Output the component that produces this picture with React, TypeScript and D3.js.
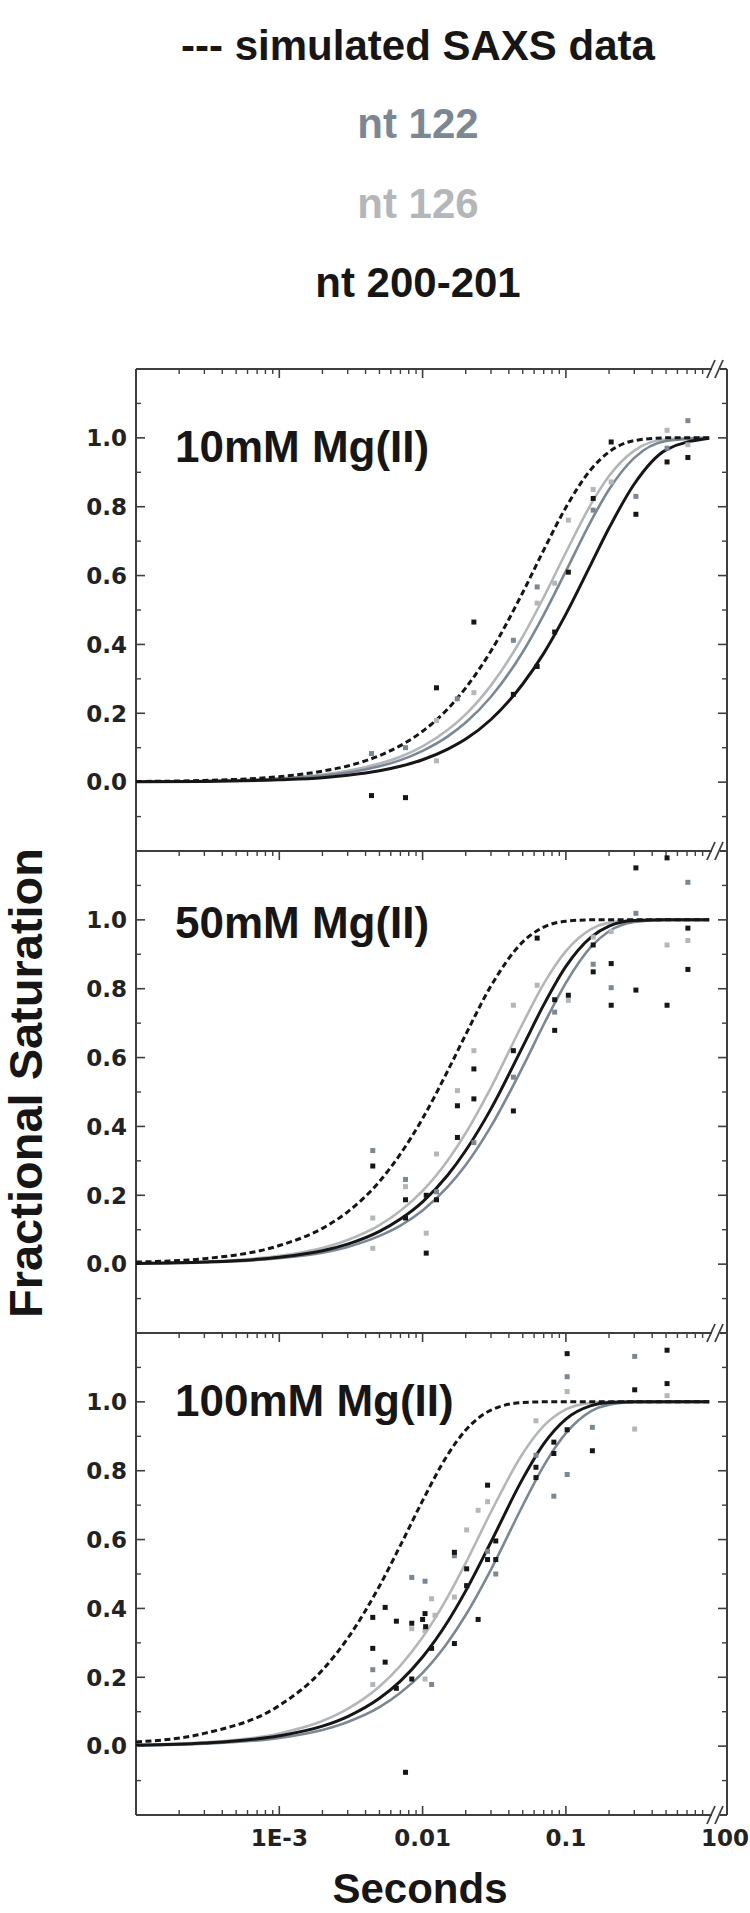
import React from 'react';
import * as d3 from 'd3';

// ---------- data ----------
const TIMES = [1e-4, 3e-4, 1e-3, 2e-3, 3e-3, 5e-3, 7e-3, 0.01, 0.015, 0.02, 0.03, 0.05, 0.07, 0.1, 0.15, 0.2, 0.3, 0.5, 1];

const PANEL_LABELS = ['10mM Mg(II)', '50mM Mg(II)', '100mM Mg(II)'];
const LEGEND_LABELS = ['--- simulated SAXS data', 'nt 122', 'nt 126', 'nt 200-201'];
const X_TICKS = [1e-3, 1e-2, 1e-1];
const X_TICK_LABELS = ['1E-3', '0.01', '0.1'];
const X_BREAK_LABEL = '100';
const Y_TICKS = [0, 0.2, 0.4, 0.6, 0.8, 1.0];
const Y_MINOR = [-0.1, 0.1, 0.3, 0.5, 0.7, 0.9, 1.1];

// fitted curves (at TIMES)
const p1Saxs = [0.002, 0.005, 0.016, 0.032, 0.047, 0.077, 0.106, 0.148, 0.213, 0.274, 0.381, 0.551, 0.674, 0.798, 0.909, 0.959, 0.992, 1.0, 1.0];
const p1Nt126 = [0.001, 0.003, 0.011, 0.022, 0.033, 0.054, 0.074, 0.104, 0.152, 0.197, 0.281, 0.423, 0.537, 0.667, 0.808, 0.889, 0.963, 0.996, 1.0];
const p1Nt122 = [0.001, 0.003, 0.010, 0.019, 0.028, 0.046, 0.064, 0.091, 0.133, 0.173, 0.248, 0.378, 0.486, 0.613, 0.759, 0.850, 0.942, 0.991, 1.0];
const p1Nt200 = [0.001, 0.002, 0.007, 0.013, 0.020, 0.033, 0.046, 0.065, 0.096, 0.125, 0.182, 0.285, 0.374, 0.488, 0.634, 0.738, 0.866, 0.965, 0.999];

const p2Saxs = [0.006, 0.016, 0.054, 0.104, 0.152, 0.240, 0.320, 0.423, 0.562, 0.667, 0.808, 0.936, 0.979, 0.996, 1.0, 1.0, 1.0, 1.0, 1.0];
const p2Nt126 = [0.002, 0.007, 0.024, 0.047, 0.070, 0.113, 0.155, 0.213, 0.302, 0.381, 0.513, 0.699, 0.814, 0.909, 0.973, 0.992, 0.999, 1.0, 1.0];
const p2Nt122 = [0.002, 0.005, 0.017, 0.033, 0.050, 0.082, 0.112, 0.156, 0.225, 0.288, 0.400, 0.573, 0.696, 0.817, 0.922, 0.967, 0.994, 1.0, 1.0];
const p2Nt200 = [0.002, 0.006, 0.020, 0.039, 0.058, 0.095, 0.131, 0.181, 0.259, 0.330, 0.451, 0.632, 0.753, 0.865, 0.950, 0.982, 0.998, 1.0, 1.0];

const p3Saxs = [0.012, 0.037, 0.118, 0.221, 0.313, 0.465, 0.583, 0.713, 0.847, 0.918, 0.976, 0.998, 1.0, 1.0, 1.0, 1.0, 1.0, 1.0, 1.0];
const p3Nt126 = [0.004, 0.011, 0.037, 0.073, 0.108, 0.173, 0.234, 0.316, 0.434, 0.532, 0.680, 0.850, 0.930, 0.978, 0.997, 1.0, 1.0, 1.0, 1.0];
const p3Nt122 = [0.002, 0.007, 0.024, 0.047, 0.070, 0.113, 0.155, 0.213, 0.302, 0.381, 0.513, 0.699, 0.814, 0.909, 0.973, 0.992, 0.999, 1.0, 1.0];
const p3Nt200 = [0.003, 0.009, 0.030, 0.058, 0.086, 0.139, 0.189, 0.259, 0.362, 0.451, 0.593, 0.777, 0.878, 0.950, 0.989, 0.998, 1.0, 1.0, 1.0];

// measured points [seconds, fraction]
const p1Pts200 = [[0.0044, -0.039], [0.0076, -0.045], [0.0125, 0.274], [0.0228, 0.465], [0.043, 0.255], [0.063, 0.336], [0.0835, 0.436], [0.104, 0.61], [0.155, 0.824], [0.207, 0.988], [0.308, 0.778], [0.508, 0.93], [0.71, 0.943]];
const p1Pts122 = [[0.0044, 0.083], [0.0076, 0.10], [0.01745, 0.242], [0.043, 0.412], [0.063, 0.567], [0.155, 0.79], [0.308, 0.83], [0.508, 0.97], [0.71, 1.05]];
const p1Pts126 = [[0.0125, 0.179], [0.0125, 0.062], [0.0228, 0.26], [0.063, 0.52], [0.0835, 0.578], [0.104, 0.761], [0.155, 0.85], [0.207, 0.872], [0.508, 1.022], [0.71, 0.98]];

const p2Pts200 = [[0.00449, 0.285], [0.0076, 0.187], [0.0076, 0.134], [0.0106, 0.032], [0.0106, 0.2], [0.0125, 0.187], [0.0175, 0.46], [0.0175, 0.368], [0.0228, 0.567], [0.0228, 0.48], [0.043, 0.445], [0.043, 0.62], [0.063, 0.947], [0.0835, 0.679], [0.0835, 0.768], [0.104, 0.781], [0.155, 0.849], [0.155, 0.927], [0.207, 0.873], [0.207, 0.752], [0.308, 1.151], [0.308, 0.796], [0.508, 1.18], [0.508, 0.752], [0.71, 0.976], [0.71, 0.856]];
const p2Pts122 = [[0.00449, 0.33], [0.0076, 0.246], [0.0125, 0.21], [0.0228, 0.353], [0.043, 0.543], [0.0835, 0.732], [0.155, 0.871], [0.207, 0.803], [0.308, 1.019], [0.71, 1.109]];
const p2Pts126 = [[0.00449, 0.134], [0.00449, 0.046], [0.0076, 0.225], [0.0106, 0.09], [0.0125, 0.32], [0.0175, 0.504], [0.0228, 0.62], [0.043, 0.752], [0.063, 0.81], [0.104, 0.766], [0.155, 0.95], [0.207, 0.966], [0.508, 0.927], [0.71, 0.94]];

const p3Pts200 = [[0.00449, 0.374], [0.00449, 0.284], [0.00548, 0.403], [0.00548, 0.244], [0.00656, 0.363], [0.00656, 0.168], [0.0076, -0.076], [0.0084, 0.357], [0.0084, 0.195], [0.01, 0.368], [0.0104, 0.385], [0.0105, 0.347], [0.01156, 0.284], [0.01667, 0.563], [0.01667, 0.298], [0.0203, 0.515], [0.0203, 0.466], [0.0244, 0.368], [0.0284, 0.758], [0.0284, 0.542], [0.0324, 0.596], [0.0324, 0.542], [0.0618, 0.78], [0.0618, 0.81], [0.0824, 0.85], [0.0824, 0.883], [0.102, 1.14], [0.102, 0.919], [0.153, 0.858], [0.302, 1.035], [0.508, 1.15], [0.508, 1.053]];
const p3Pts122 = [[0.00449, 0.222], [0.0084, 0.49], [0.0104, 0.479], [0.01156, 0.179], [0.01667, 0.553], [0.0203, 0.466], [0.0284, 0.566], [0.0324, 0.5], [0.0618, 0.845], [0.0824, 0.726], [0.102, 1.073], [0.102, 0.789], [0.153, 0.926], [0.302, 1.132]];
const p3Pts126 = [[0.00449, 0.179], [0.0084, 0.341], [0.0104, 0.336], [0.0104, 0.195], [0.01156, 0.428], [0.0122, 0.38], [0.01667, 0.433], [0.0203, 0.628], [0.0244, 0.685], [0.0284, 0.71], [0.0618, 0.945], [0.102, 1.03], [0.302, 0.921], [0.508, 1.018]];

const CURVES = [
  { nt126: p1Nt126, nt122: p1Nt122, nt200: p1Nt200, saxs: p1Saxs, pts126: p1Pts126, pts122: p1Pts122, pts200: p1Pts200 },
  { nt126: p2Nt126, nt122: p2Nt122, nt200: p2Nt200, saxs: p2Saxs, pts126: p2Pts126, pts122: p2Pts122, pts200: p2Pts200 },
  { nt126: p3Nt126, nt122: p3Nt122, nt200: p3Nt200, saxs: p3Saxs, pts126: p3Pts126, pts122: p3Pts122, pts200: p3Pts200 },
];

// ---------- style ----------
const C_BLACK = '#161616';
const C_122 = '#7b8893';
const C_126 = '#b4b7ba';
const C_AXIS = '#3e3e3e';
const SANS = '"Liberation Sans", Arial, Helvetica, sans-serif';
const TICKFONT = '"DejaVu Sans", "Liberation Sans", sans-serif';

export default function App() {
  const W = 750, H = 1913;
  const xLeft = 136, xOne = 709.2, xRight = 727;
  const panelH = 482;
  const tops = [369, 851, 1333];
  const labelBaselines = [462, 938, 1416];
  const x = d3.scaleLog().domain([1e-4, 1]).range([xLeft, xOne]);

  const minorX: number[] = [];
  for (const dec of [1e-4, 1e-3, 1e-2, 1e-1]) for (let m = 2; m <= 9; m++) minorX.push(m * dec);

  const lastBottom = tops[2] + panelH;

  const breakMark = (y: number, key: string) => (
    <g key={key}>
      <rect x={712} y={y - 2} width={8} height={4} fill="white" />
      <line x1={707} y1={y + 9} x2={715} y2={y - 9} stroke={C_AXIS} strokeWidth={1.8} />
      <line x1={715} y1={y + 9} x2={723} y2={y - 9} stroke={C_AXIS} strokeWidth={1.8} />
    </g>
  );

  return (
    <svg width={W} height={H} style={{ position: 'absolute', left: 0, top: 0, background: 'white' }}>
      {/* legend */}
      {LEGEND_LABELS.map((t, i) => (
        <text key={t} x={418} y={[60, 138, 218, 297][i]} textAnchor="middle" fontFamily={SANS} fontWeight="bold" fontSize={42}
          fill={[C_BLACK, C_122, C_126, C_BLACK][i]}>{t}</text>
      ))}

      {CURVES.map((c, pi) => {
        const top = tops[pi];
        const y = d3.scaleLinear().domain([-0.2, 1.2]).range([top + panelH, top]);
        const line = d3.line<number>().x((_, i) => x(TIMES[i])).y(v => y(v)).curve(d3.curveMonotoneX);
        const pts = (arr: number[][], color: string, k: string) => arr.map((p, i) => (
          <rect key={k + i} x={x(p[0]) - 2.5} y={y(p[1]) - 2.5} width={5} height={5} fill={color} />
        ));
        return (
          <g key={pi}>
            {/* frame */}
            <line x1={xLeft} x2={xLeft} y1={top} y2={top + panelH} stroke={C_AXIS} strokeWidth={2} />
            <line x1={xRight} x2={xRight} y1={top} y2={top + panelH} stroke={C_AXIS} strokeWidth={2} />
            <line x1={xLeft} x2={xRight} y1={top} y2={top} stroke={C_AXIS} strokeWidth={2} />
            {/* y ticks */}
            {Y_TICKS.map(v => (
              <g key={'yt' + v}>
                <line x1={xLeft} x2={xLeft + 9} y1={y(v)} y2={y(v)} stroke={C_AXIS} strokeWidth={1.6} />
                <line x1={xRight} x2={xRight - 9} y1={y(v)} y2={y(v)} stroke={C_AXIS} strokeWidth={1.6} />
                <text x={127} y={y(v)} dy="0.36em" textAnchor="end" fontFamily={TICKFONT} fontWeight="bold" fontSize={23} fill="#222">{v.toFixed(1)}</text>
              </g>
            ))}
            {Y_MINOR.map(v => (
              <g key={'ym' + v}>
                <line x1={xLeft} x2={xLeft + 5} y1={y(v)} y2={y(v)} stroke={C_AXIS} strokeWidth={1.4} />
                <line x1={xRight} x2={xRight - 5} y1={y(v)} y2={y(v)} stroke={C_AXIS} strokeWidth={1.4} />
              </g>
            ))}
            {/* top x ticks */}
            {X_TICKS.map(t => (
              <line key={'xt' + t} x1={x(t)} x2={x(t)} y1={top} y2={top + 9} stroke={C_AXIS} strokeWidth={1.6} />
            ))}
            {minorX.map(t => (
              <line key={'xm' + t} x1={x(t)} x2={x(t)} y1={top} y2={top + 5} stroke={C_AXIS} strokeWidth={1.4} />
            ))}
            {breakMark(top, 'br' + pi)}

            {/* curves */}
            <path d={line(c.nt126) || ''} fill="none" stroke={C_126} strokeWidth={2.6} />
            <path d={line(c.nt122) || ''} fill="none" stroke={C_122} strokeWidth={2.6} />
            <path d={line(c.nt200) || ''} fill="none" stroke={C_BLACK} strokeWidth={3} />
            <path d={line(c.saxs) || ''} fill="none" stroke={C_BLACK} strokeWidth={3} strokeDasharray="6,3.5" />

            {pts(c.pts126, C_126, 'a')}
            {pts(c.pts122, C_122, 'b')}
            {pts(c.pts200, C_BLACK, 'c')}

            <text x={175} y={labelBaselines[pi]} fontFamily={SANS} fontWeight="bold" fontSize={44} fill={C_BLACK}>{PANEL_LABELS[pi]}</text>
          </g>
        );
      })}

      {/* bottom axis */}
      <line x1={xLeft} x2={xRight} y1={lastBottom} y2={lastBottom} stroke={C_AXIS} strokeWidth={2} />
      {X_TICKS.map((t, i) => (
        <g key={'bx' + t}>
          <line x1={x(t)} x2={x(t)} y1={lastBottom} y2={lastBottom - 9} stroke={C_AXIS} strokeWidth={1.6} />
          <text x={x(t)} y={1846} textAnchor="middle" fontFamily={TICKFONT} fontWeight="bold" fontSize={23} fill="#222">{X_TICK_LABELS[i]}</text>
        </g>
      ))}
      {minorX.map(t => (
        <line key={'bm' + t} x1={x(t)} x2={x(t)} y1={lastBottom} y2={lastBottom - 5} stroke={C_AXIS} strokeWidth={1.4} />
      ))}
      {breakMark(lastBottom, 'brb')}
      <text x={749} y={1846} textAnchor="end" fontFamily={TICKFONT} fontWeight="bold" fontSize={23} fill="#222">{X_BREAK_LABEL}</text>

      {/* axis titles */}
      <text x={420} y={1903} textAnchor="middle" fontFamily={SANS} fontWeight="bold" fontSize={42} fill={C_BLACK}>Seconds</text>
      <text transform="translate(42,1083) rotate(-90)" textAnchor="middle" fontFamily={SANS} fontWeight="bold" fontSize={47} fill={C_BLACK}>Fractional Saturation</text>
    </svg>
  );
}
